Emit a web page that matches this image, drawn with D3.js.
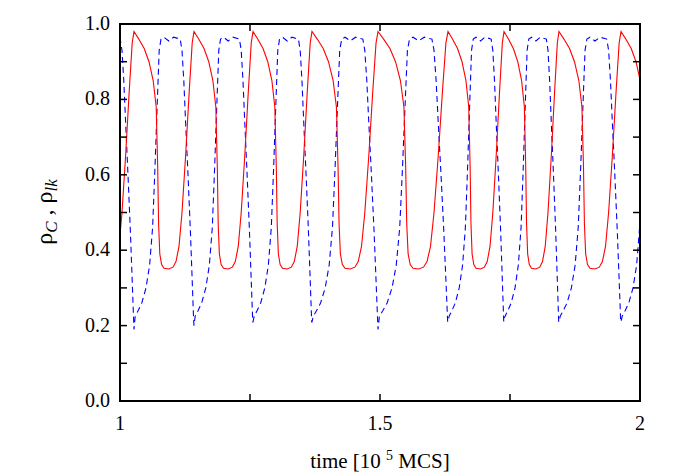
<!DOCTYPE html><html><head><meta charset="utf-8"><script src="https://cdn.jsdelivr.net/npm/d3@7"></script>
<style>body{margin:0;background:#fff}</style></head><body><svg id="c" width="695" height="472"></svg><script>
// red peak times (cycle starts)
const peakTimes=[0.9115,1.0269,1.1423,1.2558,1.3692,1.4962,1.6308,1.7385,1.8442,1.9635,2.0788];
// one cycle of rho_C: [fraction of cycle, value]
const redCycle=[[0,0.98],[0.08,0.96],[0.17,0.935],[0.25,0.9],[0.32,0.85],[0.37,0.78],[0.395,0.62],[0.41,0.47],[0.43,0.39],[0.46,0.362],[0.5,0.352],[0.58,0.35],[0.65,0.355],[0.7,0.37],[0.75,0.41],[0.8,0.5],[0.86,0.65],[0.92,0.82],[0.97,0.95]];
// one cycle of rho_lk
const blueCycle=[[0,0.2],[0.02,0.225],[0.07,0.24],[0.13,0.26],[0.2,0.3],[0.26,0.36],[0.31,0.46],[0.35,0.62],[0.39,0.8],[0.42,0.93],[0.45,0.96],[0.5,0.965],[0.58,0.955],[0.66,0.965],[0.77,0.96],[0.8,0.93],[0.83,0.85],[0.86,0.74],[0.9,0.6],[0.94,0.45],[0.97,0.32],[0.995,0.21]];
const blueMins=[0.2,0.19,0.2,0.21,0.21,0.19,0.21,0.22,0.21,0.21,0.2];
const xTicks=[1,1.25,1.5,1.75,2], xLabels=[1,1.5,2];
const yTicks=d3.range(0,11).map(i=>i/10), yLabels=[0,0.2,0.4,0.6,0.8,1.0];
function build(tpl,mins){const pts=[];for(let i=0;i<peakTimes.length-1;i++){const a=peakTimes[i],b=peakTimes[i+1];tpl.forEach(([f,v],j)=>{let val=v;if(mins&&j===0)val=mins[i];pts.push([a+f*(b-a),val]);});}return pts;}
const red=build(redCycle), blue=build(blueCycle,blueMins);
const svg=d3.select("#c"),L=120,R=640,T=24,B=401;
const x=d3.scaleLinear().domain([1,2]).range([L,R]), y=d3.scaleLinear().domain([0,1]).range([B,T]);
svg.append("defs").append("clipPath").attr("id","cp").append("rect").attr("x",L).attr("y",T).attr("width",R-L).attr("height",B-T);
const line=d3.line().x(d=>x(d[0])).y(d=>y(d[1]));
const g=svg.append("g").attr("clip-path","url(#cp)");
g.append("path").datum(blue).attr("d",line).attr("fill","none").attr("stroke","#0000ff").attr("stroke-width",1.1).attr("stroke-dasharray","6,4");
g.append("path").datum(red).attr("d",line).attr("fill","none").attr("stroke","#ff0000").attr("stroke-width",1.1);
const f="Liberation Serif";
xTicks.forEach(t=>{svg.append("line").attr("x1",x(t)).attr("x2",x(t)).attr("y1",B).attr("y2",B-7).attr("stroke","#000").attr("stroke-width",1.5);svg.append("line").attr("x1",x(t)).attr("x2",x(t)).attr("y1",T).attr("y2",T+7).attr("stroke","#000").attr("stroke-width",1.5);});
yTicks.forEach(t=>{svg.append("line").attr("x1",L).attr("x2",L+7).attr("y1",y(t)).attr("y2",y(t)).attr("stroke","#000").attr("stroke-width",1.5);svg.append("line").attr("x1",R).attr("x2",R-7).attr("y1",y(t)).attr("y2",y(t)).attr("stroke","#000").attr("stroke-width",1.5);});
svg.append("rect").attr("x",L).attr("y",T).attr("width",R-L).attr("height",B-T).attr("fill","none").attr("stroke","#000").attr("stroke-width",2);
xLabels.forEach(t=>svg.append("text").attr("x",x(t)).attr("y",B+29).attr("text-anchor","middle").attr("font-family",f).attr("font-size",20).text(d3.format("")(t)));
yLabels.forEach(t=>svg.append("text").attr("x",L-10).attr("y",y(t)+6).attr("text-anchor","end").attr("font-family",f).attr("font-size",20).text(t.toFixed(1)));
const xl=svg.append("text").attr("x",380).attr("y",468).attr("text-anchor","middle").attr("font-family",f).attr("font-size",21);
xl.append("tspan").text("time [10 ");xl.append("tspan").attr("font-size",14).attr("dy",-8).text("5");xl.append("tspan").attr("dy",8).text(" MCS]");
const yl=svg.append("text").attr("transform","translate(52,212) rotate(-90)").attr("text-anchor","middle").attr("font-family",f).attr("font-size",24);
yl.append("tspan").text("ρ");yl.append("tspan").attr("font-style","italic").attr("font-size",17).attr("dy",5).text("C");yl.append("tspan").attr("dy",-5).text(" , ρ");yl.append("tspan").attr("font-style","italic").attr("font-size",17).attr("dy",5).text("lk");
</script></body></html>
